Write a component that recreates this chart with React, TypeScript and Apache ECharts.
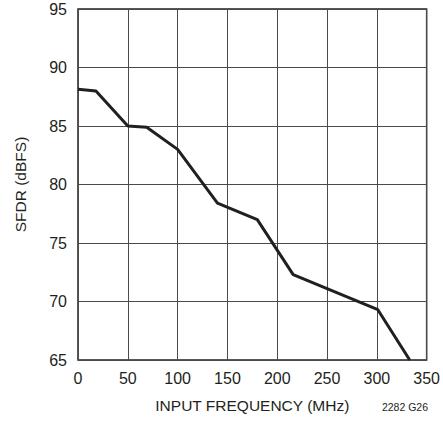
import React, { useEffect, useRef } from "react";
import * as echarts from "echarts";

const freqMHz = [0, 18, 50, 69, 100, 140, 180, 216, 301, 333];
const sfdrDbfs = [88.15, 88.0, 85.0, 84.9, 83.0, 78.4, 77.0, 72.3, 69.3, 65.0];
const xTicks = [0, 50, 100, 150, 200, 250, 300, 350];
const yTicks = [65, 70, 75, 80, 85, 90, 95];

const FONT = "'Liberation Sans', Arial, sans-serif";
const INK = "#231f20";

export default function App() {
  const ref = useRef<HTMLDivElement>(null);
  useEffect(() => {
    if (!ref.current) return;
    const chart = echarts.init(ref.current, undefined, { renderer: "svg" });
    chart.setOption({
      animation: false,
      backgroundColor: "#ffffff",
      grid: {
        left: 78,
        top: 9,
        right: 15,
        bottom: 61,
        show: true,
        borderColor: INK,
        borderWidth: 1.5,
        containLabel: false,
      },
      xAxis: {
        type: "value",
        min: xTicks[0],
        max: xTicks[xTicks.length - 1],
        interval: 50,
        name: "INPUT FREQUENCY (MHz)",
        nameLocation: "middle",
        nameGap: 37,
        nameTextStyle: { fontFamily: FONT, fontSize: 15.5, color: INK },
        axisLine: { show: false },
        axisTick: { show: false },
        axisLabel: { fontFamily: FONT, fontSize: 16, color: INK, margin: 10 },
        splitLine: { show: true, lineStyle: { color: "#4a4a4a", width: 1 } },
      },
      yAxis: {
        type: "value",
        min: yTicks[0],
        max: yTicks[yTicks.length - 1],
        interval: 5,
        name: "SFDR (dBFS)",
        nameLocation: "middle",
        nameGap: 50,
        nameRotate: 90,
        nameTextStyle: { fontFamily: FONT, fontSize: 15.5, color: INK },
        axisLine: { show: false },
        axisTick: { show: false },
        axisLabel: { fontFamily: FONT, fontSize: 16, color: INK, margin: 11 },
        splitLine: { show: true, lineStyle: { color: "#4a4a4a", width: 1 } },
      },
      graphic: [
        {
          type: "text",
          right: 15,
          top: 401,
          style: { text: "2282 G26", fontFamily: FONT, fontSize: 10.5, fill: INK },
        },
      ],
      series: [
        {
          type: "line",
          data: freqMHz.map((f, i) => [f, sfdrDbfs[i]]),
          showSymbol: false,
          lineStyle: { color: INK, width: 3 },
          clip: true,
        },
      ],
    });
    return () => chart.dispose();
  }, []);
  return (
    <div
      ref={ref}
      style={{ position: "fixed", left: 0, top: 0, width: 443, height: 421 }}
    />
  );
}
